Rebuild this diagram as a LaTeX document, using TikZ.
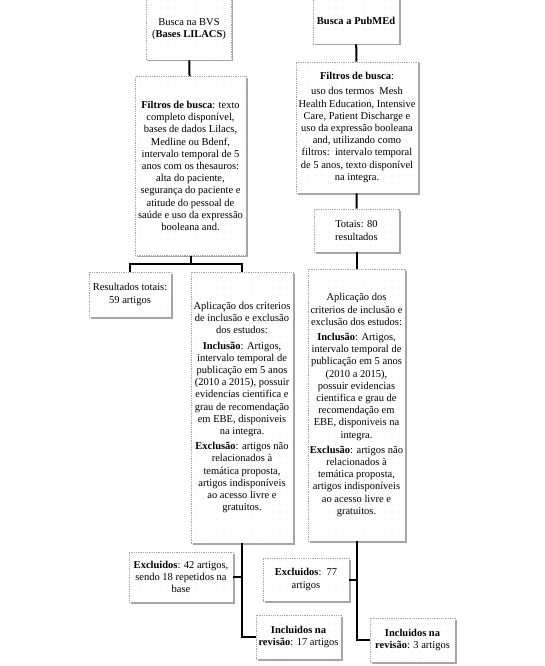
\documentclass[tikz,border=0pt]{standalone}
\usepackage{fontspec}
\setmainfont{Liberation Serif}
\usetikzlibrary{shadows,patterns.meta}
\tikzset{
  caixa/.style={draw=gray!70, densely dotted, line width=.8pt, fill=white,
    postaction={pattern={Dots[distance=7pt,radius=.45pt]}, pattern color=gray!65},
    drop shadow={shadow xshift=1.5pt, shadow yshift=-1.5pt, fill=gray!70, opacity=1},
    align=center, inner xsep=1pt, inner ysep=2pt,
    font=\fontsize{10.5}{12.2}\selectfont},
  liga/.style={line width=2pt, black}
}
\begin{document}
\begin{tikzpicture}[x=1pt,y=-1pt]
\useasboundingbox (0,0) rectangle (544,666);
% coluna BVS
\node[caixa, minimum width=85, minimum height=62] (bvs) at (189,29)
  {Busca na BVS\\(\textbf{Bases LILACS})};
\node[caixa, minimum width=111, minimum height=179] (filtrosbvs) at (190.5,166)
  {\textbf{Filtros de busca}: texto\\completo disponível,\\bases de dados Lilacs,\\Medline ou Bdenf,\\intervalo temporal de 5\\anos com os thesauros:\\alta do paciente,\\segurança do paciente e\\atitude do pessoal de\\saúde e uso da expressão\\booleana and.};
\node[caixa, minimum width=82, minimum height=45] (resultados) at (130,294.5)
  {Resultados totais:\\59 artigos};
\node[caixa, minimum width=102, minimum height=271] (aplicbvs) at (242,407.5)
  {Aplicação dos criterios\\de inclusão e exclusão\\dos estudos:\\[3pt]\textbf{Inclusão}: Artigos,\\intervalo temporal de\\publicação em 5 anos\\(2010 a 2015), possuir\\evidencias cientifica e\\grau de recomendação\\em EBE, disponiveis\\na integra.\\[3pt]\textbf{Exclusão}: artigos não\\relacionados à\\temática proposta,\\artigos indisponíveis\\ao acesso livre e\\gratuitos.};
\node[caixa, minimum width=104, minimum height=50] (excluibvs) at (181,577)
  {\textbf{Excluidos}: 42 artigos,\\sendo 18 repetidos na\\base};
\node[caixa, minimum width=85, minimum height=44] (incluibvs) at (298.5,637)
  {\textbf{Incluidos na}\\\textbf{revisão}: 17 artigos};
% coluna PubMed
\node[caixa, minimum width=86, minimum height=46] (pubmed) at (356,21)
  {\textbf{Busca a PubMEd}};
\node[caixa, minimum width=122, minimum height=131] (filtrospub) at (357,127.5)
  {\textbf{Filtros de busca}:\\[3pt]uso dos termos\ \ Mesh\\Health Education, Intensive\\Care, Patient Discharge e\\uso da expressão booleana\\and, utilizando como\\filtros:\ \ intervalo temporal\\de 5 anos, texto disponível\\na integra.};
\node[caixa, minimum width=85, minimum height=43] (totais) at (356.5,230.5)
  {Totais: 80\\resultados};
\node[caixa, minimum width=97, minimum height=272] (aplicpub) at (356.5,405)
  {Aplicação dos\\criterios de inclusão e\\exclusão dos estudos:\\[3pt]\textbf{Inclusão}: Artigos,\\intervalo temporal de\\publicação em 5 anos\\(2010 a 2015),\\possuir evidencias\\cientifica e grau de\\recomendação em\\EBE, disponiveis na\\integra.\\[3pt]\textbf{Exclusão}: artigos não\\relacionados à\\temática proposta,\\artigos indisponíveis\\ao acesso livre e\\gratuitos.};
\node[caixa, minimum width=86, minimum height=43] (excluipub) at (306,579.5)
  {\textbf{Excluidos}:\ \ 77\\artigos};
\node[caixa, minimum width=85, minimum height=44] (incluipub) at (412.5,640)
  {\textbf{Incluidos na}\\\textbf{revisão}: 3 artigos};
% ligacoes
\draw[liga] (bvs) -- (filtrosbvs);
\draw[liga] (filtrosbvs.south) -- ++(0,8) -| (resultados.north);
\draw[liga] (filtrosbvs.south) -- ++(0,8) -| (aplicbvs.north);
\draw[liga] (aplicbvs.south) |- (incluibvs.west);
\draw[liga] (excluibvs.east) -- (excluibvs.east -| aplicbvs.south);
\draw[liga] (pubmed) -- (filtrospub);
\draw[liga] (filtrospub) -- (totais);
\draw[liga] (totais.south) -- (totais.south |- aplicpub.north);
\draw[liga] (aplicpub.south) |- (incluipub.west);
\draw[liga] (excluipub.east) -- (excluipub.east -| aplicpub.south);
\end{tikzpicture}
\end{document}
